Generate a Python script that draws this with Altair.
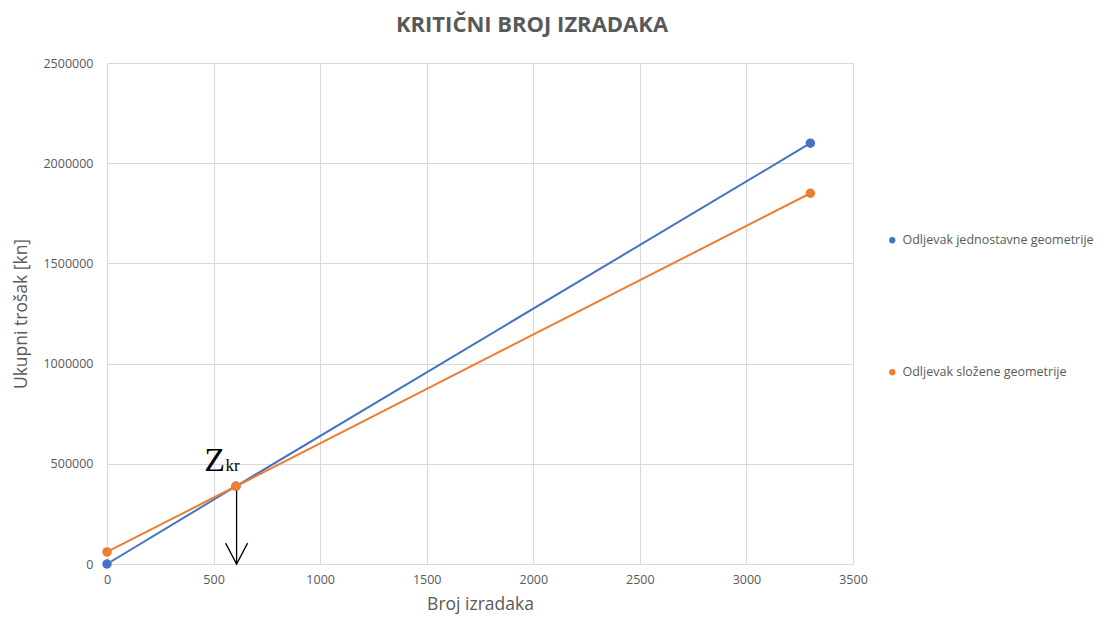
import altair as alt
import pandas as pd

# ---- data ----
broj = [0, 605, 3300]
jednostavne = [0, 388000, 2100000]
slozene = [60000, 388000, 1850000]
series_names = ["Odljevak jednostavne geometrije", "Odljevak složene geometrije"]
series_colors = ["#4472C4", "#ED7D31"]

zkr_x = [608]
zkr_top = [388000]
zkr_bottom = [0]

rows = []
for name, vals in zip(series_names, [jednostavne, slozene]):
    for x, y in zip(broj, vals):
        rows.append({"x": x, "y": y, "serija": name})
df = pd.DataFrame(rows)
arrow_df = pd.DataFrame({"x": zkr_x, "y": zkr_top, "y0": zkr_bottom})

font = "Open Sans"
grey = "#595959"

xs = alt.Scale(domain=[0, 3500], nice=False)
ys = alt.Scale(domain=[0, 2500000], nice=False)

color = alt.Color(
    "serija:N",
    scale=alt.Scale(domain=series_names, range=series_colors),
    legend=alt.Legend(
        title=None, orient="none", legendX=779, legendY=171,
        symbolType="circle", symbolSize=40, symbolStrokeWidth=0,
        labelFont=font, labelFontSize=12.5, labelColor=grey,
        rowPadding=119, labelLimit=300, symbolOffset=0, labelOffset=4,
    ),
)

x_enc = alt.X("x:Q", scale=xs, title="Broj izradaka",
              axis=alt.Axis(values=list(range(0, 3501, 500)), format="d"))
y_enc = alt.Y("y:Q", scale=ys, title="Ukupni trošak [kn]",
              axis=alt.Axis(values=list(range(0, 2500001, 500000)), format="d"))

base = alt.Chart(df)
lines = base.mark_line(strokeWidth=2).encode(x=x_enc, y=y_enc, color=color, order="x:Q")
points = base.mark_point(filled=True, size=90, opacity=1).encode(x=x_enc, y=y_enc, color=color)

arrow_line = alt.Chart(arrow_df).mark_rule(color="black", strokeWidth=1.3).encode(
    x=alt.X("x:Q", scale=xs), y=alt.Y("y:Q", scale=ys), y2="y0:Q")
arrow_head = alt.Chart(arrow_df).mark_point(
    shape="M-1,-1.9L0,0L1,-1.9", size=484, filled=False, color="black",
    strokeWidth=1.3, opacity=1).encode(x=alt.X("x:Q", scale=xs), y=alt.Y("y0:Q", scale=ys))

z_text = alt.Chart(arrow_df).mark_text(
    text="Z", font="Liberation Serif", fontSize=34, color="black",
    align="center", baseline="alphabetic", dx=-22, dy=-15).encode(
    x=alt.X("x:Q", scale=xs), y=alt.Y("y:Q", scale=ys))
kr_text = alt.Chart(arrow_df).mark_text(
    text="kr", font="Liberation Serif", fontSize=17, color="black",
    align="left", baseline="alphabetic", dx=-11, dy=-15).encode(
    x=alt.X("x:Q", scale=xs), y=alt.Y("y:Q", scale=ys))

chart = alt.layer(lines, arrow_line, arrow_head, points, z_text, kr_text).properties(
    width=746, height=501,
    autosize=alt.AutoSizeParams(type="none"),
    padding={"left": 99, "top": 55, "right": 254, "bottom": 50},
    title=alt.TitleParams(
        "KRITIČNI BROJ IZRADAKA", font=font, fontSize=22, fontWeight="bold",
        color=grey, anchor="middle", frame="group", dx=52, offset=20,
    ),
).configure_view(stroke=None).configure_axis(
    gridColor="#D9D9D9", gridWidth=1, domain=False, ticks=False, labelFlush=False,
    labelFont=font, labelFontSize=12.5, labelColor=grey,
    titleFont=font, titleFontSize=17.5, titleColor=grey, titleFontWeight="normal",
).configure_axisX(labelPadding=9, titlePadding=10).configure_axisY(
    labelPadding=14, titlePadding=12)

chart.save("out.html", embed_options={"renderer": "svg", "actions": False})
